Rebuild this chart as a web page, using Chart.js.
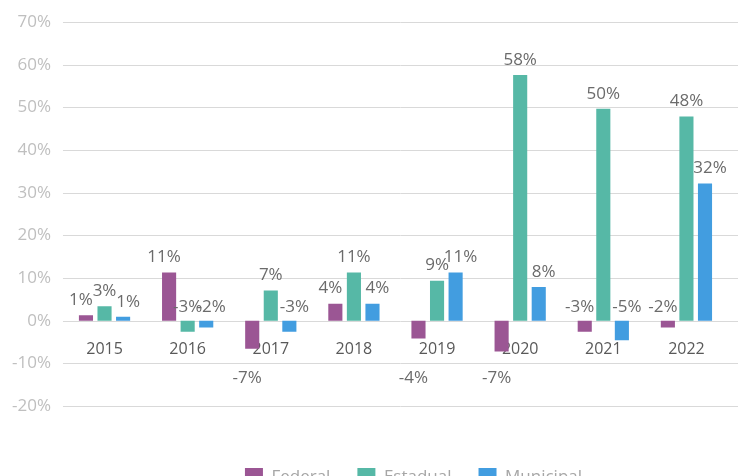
<!DOCTYPE html>
<html>
<head>
<meta charset="utf-8">
<script src="https://cdn.jsdelivr.net/npm/chart.js@4"></script>
<style>
  html, body { margin: 0; padding: 0; background: #fff; overflow: hidden; }
  #box { width: 738px; height: 496px; }
</style>
</head>
<body>
<div id="box"><canvas id="barChart"></canvas></div>
<script>
// =============== Données
const years = ['2015', '2016', '2017', '2018', '2019', '2020', '2021', '2022'];
const federal = [1.3, 11.3, -6.6, 4.0, -4.2, -7.2, -2.6, -1.6];
const estadual = [3.4, -2.6, 7.1, 11.3, 9.4, 57.6, 49.7, 47.9];
const municipal = [0.9, -1.6, -2.6, 4.0, 11.3, 7.9, -4.6, 32.2];

const FONT = '"Open Sans", "Noto Sans", sans-serif';

// lignes horizontales jusqu'au bord droit
const gridLines = {
    id: 'gridLines',
    beforeDatasetsDraw(chart) {
        const ctx = chart.ctx;
        const y = chart.scales.y;
        ctx.save();
        ctx.strokeStyle = '#d9d9d9';
        ctx.lineWidth = 1;
        y.ticks.forEach(t => {
            const py = Math.round(y.getPixelForValue(t.value)) + 0.5;
            ctx.beginPath();
            ctx.moveTo(chart.chartArea.left, py);
            ctx.lineTo(chart.width, py);
            ctx.stroke();
        });
        ctx.restore();
    }
};

// étiquettes de valeurs
const valueLabels = {
    id: 'valueLabels',
    afterDatasetsDraw(chart) {
        const ctx = chart.ctx;
        const zero = chart.scales.y.getPixelForValue(0);
        const spread = [-5, 0, 5];
        ctx.save();
        ctx.font = '17px ' + FONT;
        ctx.fillStyle = '#6b6b6b';
        ctx.textAlign = 'center';
        ctx.textBaseline = 'middle';
        chart.data.datasets.forEach((ds, i) => {
            chart.getDatasetMeta(i).data.forEach((bar, j) => {
                const v = ds.data[j];
                let y;
                if (v >= 0) y = bar.y - 15;
                else if (v < -4 && i === 0) y = zero + 57;
                else y = zero - 14;
                ctx.fillText(Math.round(v) + '%', bar.x + spread[i], y);
            });
        });
        ctx.restore();
    }
};

// légende un peu décalée à droite
const legendShift = {
    id: 'legendShift',
    afterLayout(chart) {
        chart.legend.left += 18;
        chart.legend.right += 18;
    }
};

const bar_chart = document.getElementById('barChart');

new Chart(bar_chart, {
    type: 'bar',
    data: {
        labels: years,
        datasets: [
            { label: 'Federal', data: federal, backgroundColor: '#9b5694' },
            { label: 'Estadual', data: estadual, backgroundColor: '#56b8a6' },
            { label: 'Municipal', data: municipal, backgroundColor: '#429de0' }
        ]
    },
    options: {
        responsive: true,
        maintainAspectRatio: false,
        animation: false,
        layout: { padding: { top: 11, right: 10, left: 0, bottom: 0 } },
        categoryPercentage: 0.67,
        barPercentage: 0.76,
        plugins: {
            tooltip: { enabled: false },
            legend: {
                position: 'bottom',
                fullSize: false,
                labels: {
                    boxWidth: 18,
                    boxHeight: 18,
                    padding: 27,
                    color: '#a6a6a6',
                    font: { family: FONT, size: 17 }
                }
            }
        },
        scales: {
            x: {
                position: { y: 0 },
                grid: { display: false, drawTicks: false },
                border: { display: false },
                ticks: {
                    color: '#595959',
                    padding: 19,
                    font: { family: FONT, size: 16 }
                }
            },
            // axe vide : espace entre le graphique et la légende
            gap: {
                type: 'category',
                position: 'bottom',
                grid: { display: false, drawTicks: false },
                border: { display: false },
                ticks: { display: false },
                afterFit(scale) { scale.height = 35; }
            },
            y: {
                min: -20,
                max: 70,
                grid: { display: false, drawTicks: false },
                border: { display: false },
                ticks: {
                    stepSize: 10,
                    padding: 12,
                    color: '#bfbfbf',
                    font: { family: FONT, size: 17 },
                    callback: v => v + '%'
                }
            }
        }
    },
    plugins: [gridLines, valueLabels, legendShift]
});
</script>
</body>
</html>
